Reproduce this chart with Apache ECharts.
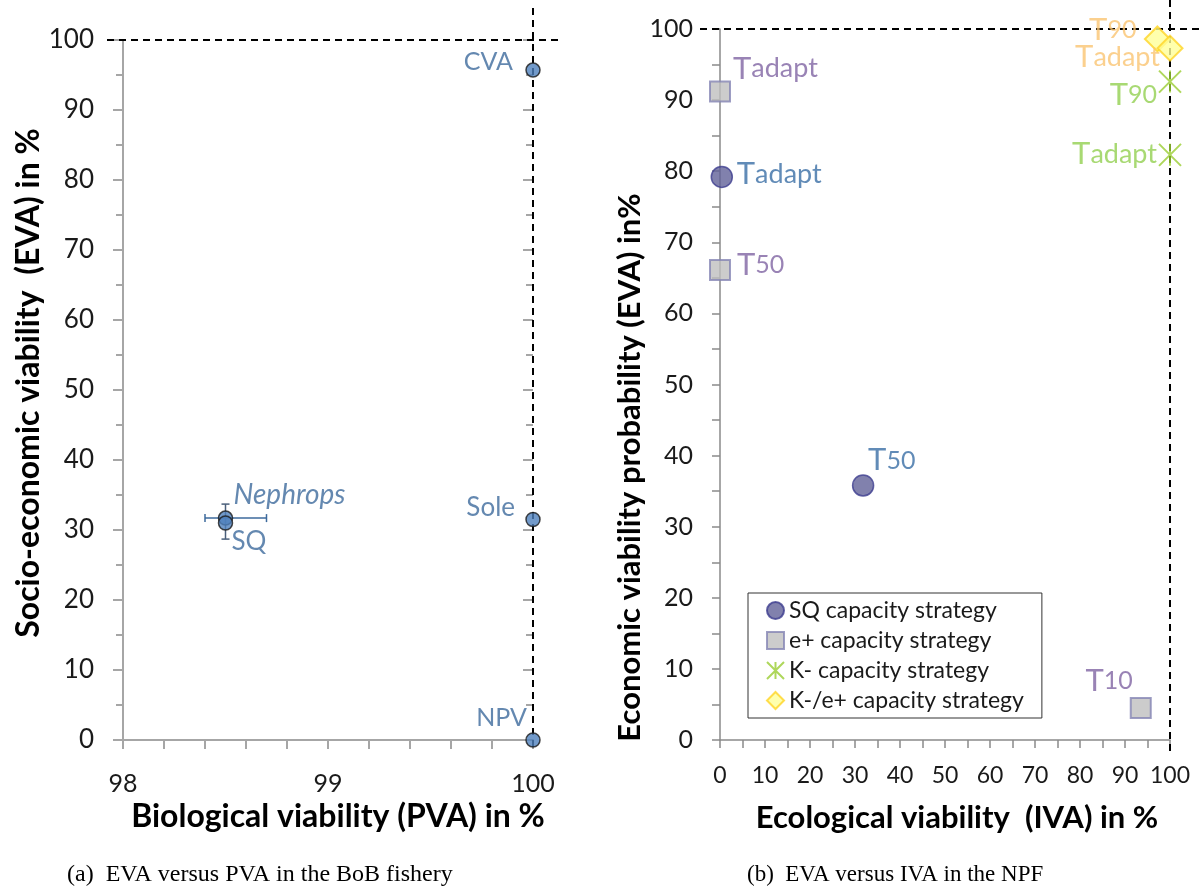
<!DOCTYPE html>
<html><head><meta charset="utf-8">
<script src="https://cdn.jsdelivr.net/npm/echarts@6/dist/echarts.min.js"></script>
<style>html,body{margin:0;padding:0;background:#fff}#c{width:1200px;height:891px}</style>
</head><body><div id="c"></div>
<script>
// ---------- Panel (a): EVA versus PVA in the BoB fishery ----------
const leftNames = ['CVA', 'Sole', 'NPV', 'Nephrops', 'SQ'];
const leftPVA = [100, 100, 100, 98.5, 98.5];
const leftEVA = [95.7, 31.5, 0, 31.7, 31.0];
const nephropsPVARange = [98.4, 98.7];   // horizontal error bar (PVA)
const sqEVARange = [28.7, 33.7];         // vertical error bar (EVA)
const leftXTicks = [98, 99, 100];
const leftYTicks = [0, 10, 20, 30, 40, 50, 60, 70, 80, 90, 100];

// ---------- Panel (b): EVA versus IVA in the NPF ----------
const seriesNames = ['SQ capacity strategy', 'e+ capacity strategy', 'K- capacity strategy', 'K-/e+ capacity strategy'];
const sqIVA = [0.4, 31.8];
const sqEVA = [79.2, 35.8];
const sqLabels = ['Tadapt', 'T50'];
const ePlusIVA = [0, 0, 93.5];
const ePlusEVA = [91.2, 66.1, 4.5];
const ePlusLabels = ['Tadapt', 'T50', 'T10'];
const kMinusIVA = [100, 100];
const kMinusEVA = [92.6, 82.3];
const kMinusLabels = ['T90', 'Tadapt'];
const kePlusIVA = [97.2, 100];
const kePlusEVA = [98.6, 97.3];
const kePlusLabels = ['T90', 'Tadapt'];
const rightTicks = [0, 10, 20, 30, 40, 50, 60, 70, 80, 90, 100];

// ---------- styles ----------
const FONT = 'Lato';
const leftLabelColor = '#3D6A9C';
const leftLabelStyle = {
  CVA: {align: 'right', offset: [-20, -8], size: 25},
  Sole: {align: 'right', offset: [-18, -12], size: 26},
  NPV: {align: 'right', offset: [-6, -22], size: 25},
  Nephrops: {align: 'left', offset: [8, -23], size: 28, fontStyle: 'italic'},
  SQ: {align: 'left', offset: [6, 19], size: 26}
};
const rightLabelStyle = {
  'SQ capacity strategy': {color: '#3A6EA5', pos: {Tadapt: ['left', [15, -3]], T50: ['left', [5, -25]]}},
  'e+ capacity strategy': {color: '#8064A2', pos: {Tadapt: ['left', [13, -23]], T50: ['left', [17, -5]], T10: ['right', [-8, -27]]}},
  'K- capacity strategy': {color: '#92D050', pos: {T90: ['right', [-13, 13]], Tadapt: ['right', [-13, -1]]}},
  'K-/e+ capacity strategy': {color: '#FAC472', pos: {T90: ['right', [-21, -9]], Tadapt: ['right', [-10, 9]]}}
};
function richFmt(name) {
  const rest = name.slice(1);
  return /^\d+$/.test(rest) ? '{t|T}{d|' + rest + '}' : '{t|T}{s|' + rest + '}';
}
function richFor(color) {
  return {
    t: {fontFamily: FONT, fontSize: 31, color: color},
    s: {fontFamily: FONT, fontSize: 27, color: color},
    d: {fontFamily: FONT, fontSize: 25, color: color}
  };
}

function zip(xs, ys, names) { return xs.map((x, i) => [x, ys[i], names[i]]); }

const leftAxisColor = '#A6A6A6';
const rightAxisColor = '#8A8A8A';

function valueAxis(opts) {
  return Object.assign({
    type: 'value', splitLine: {show: false}, axisLine: {show: true, onZero: false},
    axisLabel: {fontFamily: FONT, fontSize: 24, color: '#1a1a1a'}
  }, opts);
}

const option = {
  animation: false,
  backgroundColor: '#ffffff',
  title: [
    {text: '(a)  EVA versus PVA in the BoB fishery', left: 62, top: 858,
     textStyle: {fontFamily: 'Liberation Serif', fontSize: 24, fontWeight: 'normal', color: '#000'}},
    {text: '(b)  EVA versus IVA in the NPF', left: 742, top: 858,
     textStyle: {fontFamily: 'Liberation Serif', fontSize: 23, fontWeight: 'normal', color: '#000'}}
  ],
  grid: [
    {left: 123, top: 40, width: 410, height: 700},
    {left: 720, top: 29, width: 450, height: 711}
  ],
  legend: {
    data: seriesNames, orient: 'vertical', left: 748, top: 593,
    padding: [6, 18, 6, 18], itemGap: 7, itemWidth: 17, itemHeight: 17,
    backgroundColor: '#fff', borderColor: '#333', borderWidth: 1, selectedMode: false,
    textStyle: {fontFamily: FONT, fontSize: 23, color: '#1a1a1a'}
  },
  xAxis: [
    valueAxis({gridIndex: 0, min: 98, max: 100, interval: 1,
      name: 'Biological viability (PVA) in %', nameLocation: 'middle', nameGap: 52,
      nameTextStyle: {fontFamily: FONT, fontSize: 32, fontWeight: 'bold', color: '#000', padding: [0, 0, 0, 20]},
      axisLine: {show: true, onZero: false, lineStyle: {color: leftAxisColor, width: 2}},
      axisTick: {show: true, length: 9, lineStyle: {color: leftAxisColor, width: 2}},
      minorTick: {show: true, splitNumber: 5, length: 9, lineStyle: {color: leftAxisColor, width: 2}},
      axisLabel: {fontFamily: FONT, fontSize: 25, color: '#1a1a1a', margin: 31,
        formatter: v => leftXTicks.includes(Math.round(v * 1000) / 1000) ? String(Math.round(v)) : ''}}),
    valueAxis({gridIndex: 0, min: 98, max: 100, interval: 1,
      axisLine: {show: false}, axisLabel: {show: false},
      axisTick: {show: true, inside: true, length: 9, lineStyle: {color: leftAxisColor, width: 2}},
      minorTick: {show: true, splitNumber: 5, length: 9, lineStyle: {color: leftAxisColor, width: 2}}}),
    valueAxis({gridIndex: 1, min: 0, max: 100, interval: 10,
      name: 'Ecological viability  (IVA) in %', nameLocation: 'middle', nameGap: 62,
      nameTextStyle: {fontFamily: FONT, fontSize: 31, fontWeight: 'bold', color: '#000', padding: [0, 0, 0, 24]},
      axisLine: {show: true, onZero: false, lineStyle: {color: rightAxisColor, width: 1.5}},
      axisTick: {show: true, length: 8, lineStyle: {color: rightAxisColor, width: 1.5}},
      minorTick: {show: true, splitNumber: 2, length: 8, lineStyle: {color: rightAxisColor, width: 1.5}},
      axisLabel: {fontFamily: FONT, fontSize: 23, color: '#1a1a1a', margin: 24,
        formatter: v => rightTicks.includes(v) ? String(v) : ''}}),
    valueAxis({gridIndex: 1, min: 0, max: 100, interval: 10,
      axisLine: {show: false}, axisLabel: {show: false},
      axisTick: {show: true, inside: true, length: 8, lineStyle: {color: rightAxisColor, width: 1.5}},
      minorTick: {show: true, splitNumber: 2, length: 8, lineStyle: {color: rightAxisColor, width: 1.5}}})
  ],
  yAxis: [
    valueAxis({gridIndex: 0, min: 0, max: 100, interval: 10,
      name: 'Socio-economic viability  (EVA) in %', nameLocation: 'middle', nameGap: 78, nameRotate: 90,
      nameTextStyle: {fontFamily: FONT, fontSize: 32, fontWeight: 'bold', color: '#000', padding: [0, 0, 0, 14]},
      axisLine: {show: true, onZero: false, lineStyle: {color: leftAxisColor, width: 2}},
      axisTick: {show: true, length: 10, lineStyle: {color: leftAxisColor, width: 2}},
      minorTick: {show: true, splitNumber: 2, length: 7, lineStyle: {color: leftAxisColor, width: 2}},
      axisLabel: {fontFamily: FONT, fontSize: 26, color: '#1a1a1a', margin: 29,
        formatter: v => leftYTicks.includes(v) ? String(v) : ''}}),
    valueAxis({gridIndex: 0, min: 0, max: 100, interval: 10,
      axisLine: {show: false}, axisLabel: {show: false},
      axisTick: {show: true, inside: true, length: 10, lineStyle: {color: leftAxisColor, width: 2}},
      minorTick: {show: true, splitNumber: 2, length: 7, lineStyle: {color: leftAxisColor, width: 2}}}),
    valueAxis({gridIndex: 1, min: 0, max: 100, interval: 10,
      name: 'Economic viability probability (EVA) in%', nameLocation: 'middle', nameGap: 58, nameRotate: 90,
      nameTextStyle: {fontFamily: FONT, fontSize: 31, fontWeight: 'bold', color: '#000', padding: [0, 166, 0, 0]},
      axisLine: {show: true, onZero: false, lineStyle: {color: rightAxisColor, width: 1.5}},
      axisTick: {show: true, length: 8, lineStyle: {color: rightAxisColor, width: 1.5}},
      minorTick: {show: true, splitNumber: 2, length: 8, lineStyle: {color: rightAxisColor, width: 1.5}},
      axisLabel: {fontFamily: FONT, fontSize: 25, color: '#1a1a1a', margin: 27,
        formatter: v => rightTicks.includes(v) ? String(v) : ''}}),
    valueAxis({gridIndex: 1, min: 0, max: 100, interval: 10,
      axisLine: {show: false}, axisLabel: {show: false},
      axisTick: {show: true, inside: true, length: 8, lineStyle: {color: rightAxisColor, width: 1.5}},
      minorTick: {show: true, splitNumber: 2, length: 8, lineStyle: {color: rightAxisColor, width: 1.5}}})
  ],
  series: []
};

// Panel (a) error bars
option.series.push({
  name: 'Nephrops PVA error', type: 'custom', xAxisIndex: 0, yAxisIndex: 0, z: 3, silent: true,
  data: [[leftPVA[3], leftEVA[3], nephropsPVARange[0], nephropsPVARange[1]]],
  renderItem: (params, api) => {
    const y = api.value(1);
    const a = api.coord([api.value(2), y]), b = api.coord([api.value(3), y]);
    const st = {stroke: '#3D6A9C', lineWidth: 1.5};
    return {type: 'group', children: [
      {type: 'line', shape: {x1: a[0], y1: a[1], x2: b[0], y2: b[1]}, style: st},
      {type: 'line', shape: {x1: a[0], y1: a[1] - 4, x2: a[0], y2: a[1] + 4}, style: st},
      {type: 'line', shape: {x1: b[0], y1: b[1] - 4, x2: b[0], y2: b[1] + 4}, style: st}
    ]};
  }
});
option.series.push({
  name: 'SQ EVA error', type: 'custom', xAxisIndex: 0, yAxisIndex: 0, z: 3, silent: true,
  data: [[leftPVA[4], leftEVA[4], sqEVARange[0], sqEVARange[1]]],
  renderItem: (params, api) => {
    const x = api.value(0);
    const a = api.coord([x, api.value(2)]), b = api.coord([x, api.value(3)]);
    const st = {stroke: '#4A5F7A', lineWidth: 1.5};
    return {type: 'group', children: [
      {type: 'line', shape: {x1: a[0], y1: a[1], x2: b[0], y2: b[1]}, style: st},
      {type: 'line', shape: {x1: a[0] - 4, y1: a[1], x2: a[0] + 4, y2: a[1]}, style: st},
      {type: 'line', shape: {x1: b[0] - 4, y1: b[1], x2: b[0] + 4, y2: b[1]}, style: st}
    ]};
  }
});
// Panel (a) points
option.series.push({
  name: 'BoB', type: 'scatter', xAxisIndex: 0, yAxisIndex: 0, z: 4,
  symbol: 'circle', symbolSize: 14,
  itemStyle: {color: '#4F81BD', borderColor: '#1a1a1a', borderWidth: 1.5},
  data: leftNames.map((n, i) => {
    const s = leftLabelStyle[n];
    return {value: [leftPVA[i], leftEVA[i]], name: n,
      label: {show: true, position: 'inside', formatter: n, align: s.align, verticalAlign: 'middle',
        offset: s.offset, fontFamily: FONT, fontSize: s.size, fontStyle: s.fontStyle || 'normal', color: leftLabelColor}};
  })
});

// Panel (b) series
const rightDefs = [
  {name: seriesNames[0], xs: sqIVA, ys: sqEVA, ls: sqLabels, symbol: 'circle', size: 21,
   itemStyle: {color: '#626299', borderColor: '#3C3C8E', borderWidth: 1.5}},
  {name: seriesNames[1], xs: ePlusIVA, ys: ePlusEVA, ls: ePlusLabels, symbol: 'rect', size: 20,
   itemStyle: {color: '#BFBFBF', borderColor: '#8484B4', borderWidth: 2}},
  {name: seriesNames[2], xs: kMinusIVA, ys: kMinusEVA, ls: kMinusLabels,
   symbol: 'path://M0,0L10,10M10,0L0,10M5,0L5,10', size: 22,
   itemStyle: {color: 'rgba(0,0,0,0)', borderColor: '#9ACD32', borderWidth: 2}},
  {name: seriesNames[3], xs: kePlusIVA, ys: kePlusEVA, ls: kePlusLabels, symbol: 'diamond', size: 25,
   itemStyle: {color: '#FFFF99', borderColor: '#FFD426', borderWidth: 2}}
];
rightDefs.forEach(d => {
  const ls = rightLabelStyle[d.name];
  option.series.push({
    name: d.name, type: 'scatter', xAxisIndex: 2, yAxisIndex: 2, z: 4,
    symbol: d.symbol, symbolSize: d.size, itemStyle: d.itemStyle,
    data: zip(d.xs, d.ys, d.ls).map(p => {
      const cfg = ls.pos[p[2]];
      return {value: [p[0], p[1]], name: p[2],
        label: {show: true, position: 'inside', formatter: richFmt(p[2]), align: cfg[0], verticalAlign: 'middle',
          offset: cfg[1], rich: richFor(ls.color)}};
    })
  });
});

const chart = echarts.init(document.getElementById('c'), null, {renderer: 'canvas'});
chart.setOption(option);

// dashed 100% reference lines, positioned through the axes' scales
const px = (g, v) => chart.convertToPixel({gridIndex: g}, v);
const dash = {stroke: '#000', lineWidth: 2, lineDash: [7, 5]};
const L00 = px(0, [98, 0]), L11 = px(0, [100, 100]);
const R00 = px(1, [0, 0]), R11 = px(1, [100, 100]);
chart.setOption({graphic: [
  {type: 'line', z: 2, shape: {x1: L00[0] - 16, y1: L11[1], x2: L11[0] + 29, y2: L11[1]}, style: dash},
  {type: 'line', z: 2, shape: {x1: L11[0], y1: L11[1] - 32, x2: L11[0], y2: L00[1] + 12}, style: dash},
  {type: 'line', z: 2, shape: {x1: R00[0] - 20, y1: R11[1], x2: 1200, y2: R11[1]}, style: dash},
  {type: 'line', z: 2, shape: {x1: R11[0], y1: 0, x2: R11[0], y2: R00[1] + 12}, style: dash}
]});
</script>
</body></html>
